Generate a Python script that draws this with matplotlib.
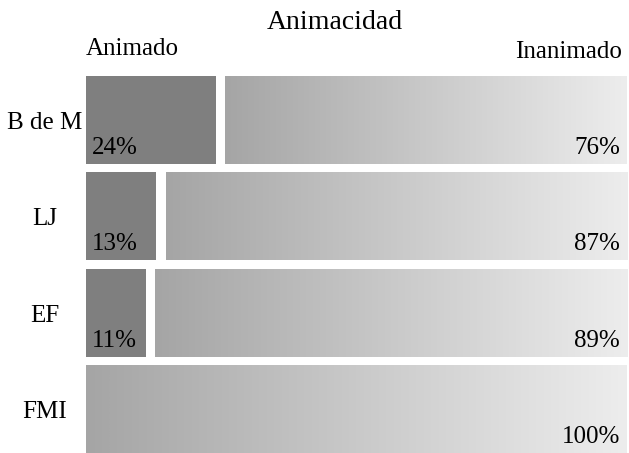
import numpy as np
import matplotlib.pyplot as plt
from matplotlib.colors import LinearSegmentedColormap
from matplotlib import transforms

plt.rcParams['font.family'] = ['Liberation Serif', 'DejaVu Serif']

# datos
grupos = ['B de M', 'LJ', 'EF', 'FMI']
animado = [24, 13, 11, 0]
inanimado = [76, 87, 89, 100]

W, H = 629, 453
fig = plt.figure(figsize=(W / 100, H / 100), dpi=100)
# eje: barras de x=86 a x=627 px, filas de y=71.5 a y=457.5 px
ax = fig.add_axes([86 / W, (H - 457.5) / H, (627 - 86) / W, (457.5 - 71.5) / H])
ax.axis('off')

alto = 0.907
hueco = 1.7  # separacion blanca entre segmentos
cmap = LinearSegmentedColormap.from_list('gris', ['#a5a5a5', '#ededed'])
grad = np.linspace(0, 1, 256).reshape(1, -1)

for i, g in enumerate(grupos):
    arriba, abajo = i - alto / 2, i + alto / 2
    inicio = 0
    if animado[i] > 0:
        ax.barh(i, animado[i], height=alto, left=0, color='#7f7f7f')
        ax.annotate(f'{animado[i]}%', xy=(0, abajo), xytext=(4, 7),
                    textcoords='offset points', ha='left', va='baseline',
                    fontsize=18)
        inicio = animado[i] + hueco
    fin = animado[i] + inanimado[i]
    ax.imshow(grad, cmap=cmap, aspect='auto', extent=(inicio, fin, abajo, arriba),
              interpolation='bicubic', zorder=1)
    ax.annotate(f'{inanimado[i]}%', xy=(fin, abajo), xytext=(-5, 7),
                textcoords='offset points', ha='right', va='baseline',
                fontsize=18)

ax.set_xlim(0, 100)
ax.set_ylim(3.5, -0.5)

# nombres de los grupos a la izquierda
trans = transforms.blended_transform_factory(fig.transFigure, ax.transData)
for i, g in enumerate(grupos):
    ax.text(45 / W, i + 0.03, g, transform=trans, ha='center', va='center',
            fontsize=18)

fig.text(335 / W, 1 - 29 / H, 'Animacidad', ha='center', va='baseline', fontsize=20)
fig.text(86 / W, 1 - 55 / H, 'Animado', ha='left', va='baseline', fontsize=18)
fig.text(622 / W, 1 - 58 / H, 'Inanimado', ha='right', va='baseline', fontsize=18)

fig.savefig('out.png', dpi=100)
